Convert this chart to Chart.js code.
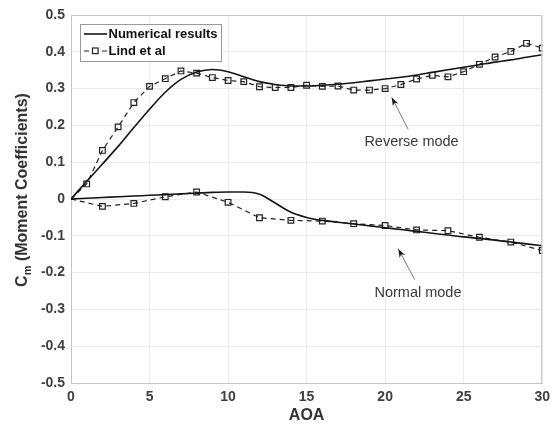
<!DOCTYPE html>
<html lang="en">
<head>
<meta charset="UTF-8">
<title>Cm vs AOA</title>
<script src="https://cdn.jsdelivr.net/npm/chart.js"></script>
<style>
  html, body { margin: 0; padding: 0; background: #fff; }
  #wrap { width: 556px; height: 429px; }
</style>
</head>
<body>
<div id="wrap"><canvas id="cmChart" width="556" height="429"></canvas></div>
<script>
// AOA values
const aoaNum = [0,1,2,3,4,5,6,7,8,9,10,11,12,13,14,15,16,17,18,19,20,21,22,23,24,25,26,27,28,29,30];
const aoaLindRev = [0,1,2,3,4,5,6,7,8,9,10,11,12,13,14,15,16,17,18,19,20,21,22,23,24,25,26,27,28,29,30];
const aoaLindNorm = [0,2,4,6,8,10,12,14,16,18,20,22,24,26,28,30];

// Numerical results (solid)
const numReverse = [0,0.048,0.095,0.143,0.194,0.244,0.29,0.325,0.345,0.352,0.346,0.332,0.319,0.311,0.307,0.307,0.309,0.312,0.316,0.321,0.326,0.331,0.337,0.344,0.351,0.358,0.365,0.372,0.378,0.385,0.392];
const numNormal = [0,0.002,0.004,0.006,0.008,0.010,0.012,0.014,0.016,0.018,0.019,0.019,0.013,-0.011,-0.036,-0.05,-0.058,-0.063,-0.068,-0.073,-0.078,-0.083,-0.088,-0.093,-0.098,-0.103,-0.107,-0.112,-0.117,-0.122,-0.127];

// Lind et al (dashed, square markers)
const lindReverse = [0,0.041,0.132,0.196,0.262,0.306,0.327,0.348,0.342,0.330,0.322,0.319,0.305,0.303,0.303,0.309,0.306,0.307,0.296,0.296,0.300,0.311,0.326,0.336,0.332,0.346,0.366,0.386,0.401,0.423,0.410];
const lindNormal = [0,-0.020,-0.012,0.006,0.019,-0.009,-0.051,-0.058,-0.060,-0.067,-0.072,-0.084,-0.086,-0.104,-0.117,-0.140];

// Annotation text + arrow (data coordinates)
const notes = [
  { text: 'Reverse mode', tx: 21.68, ty: 0.154, from: [21.47, 0.189], to: [20.42, 0.276] },
  { text: 'Normal mode', tx: 22.09, ty: -0.255, from: [21.88, -0.219], to: [20.84, -0.136] }
];

const pts = (xs, ys) => xs.map((x, i) => ({ x, y: ys[i] }));
const FONT = "'Liberation Sans', Arial, Helvetica, sans-serif";

const solidStyle = {
  borderColor: '#141414', borderWidth: 1.6, pointRadius: 0,
  tension: 0.35, cubicInterpolationMode: 'monotone', showLine: true, fill: false
};
const lindStyle = {
  borderColor: '#222', borderWidth: 1.2, borderDash: [5, 4],
  pointStyle: 'rect', pointRadius: ctx => ctx.dataIndex === 0 ? 0 : 4,
  pointBorderColor: '#222', pointBorderWidth: 1.2, pointBackgroundColor: 'rgba(255,255,255,0)',
  tension: 0, showLine: true, fill: false
};

// draws frame, titles, legend and annotations
const extras = {
  id: 'extras',
  afterDraw(chart) {
    const { ctx, chartArea: a, scales: { x, y } } = chart;
    ctx.save();

    // top/right frame
    ctx.strokeStyle = '#c4c4c4';
    ctx.lineWidth = 1;
    ctx.beginPath();
    ctx.moveTo(a.left, a.top + 0.5); ctx.lineTo(a.right - 0.5, a.top + 0.5); ctx.lineTo(a.right - 0.5, a.bottom);
    ctx.stroke();

    // x title
    ctx.fillStyle = '#333';
    ctx.font = 'bold 16px ' + FONT;
    ctx.textAlign = 'center';
    ctx.textBaseline = 'middle';
    ctx.fillText('AOA', (a.left + a.right) / 2, 416);

    // y title with subscript
    ctx.save();
    ctx.translate(23, 190);
    ctx.rotate(-Math.PI / 2);
    ctx.textAlign = 'left';
    ctx.textBaseline = 'middle';
    ctx.font = 'bold 16px ' + FONT;
    const wC = ctx.measureText('C').width;
    const rest = ' (Moment Coefficients)';
    const wRest = ctx.measureText(rest).width;
    ctx.font = 'bold 11px ' + FONT;
    const wm = ctx.measureText('m').width;
    let sx = -(wC + wm + wRest) / 2;
    ctx.font = 'bold 16px ' + FONT;
    ctx.fillText('C', sx, 0);
    ctx.font = 'bold 11px ' + FONT;
    ctx.fillText('m', sx + wC, 5);
    ctx.font = 'bold 16px ' + FONT;
    ctx.fillText(rest, sx + wC + wm, 0);
    ctx.restore();

    // annotations
    notes.forEach(n => {
      const x0 = x.getPixelForValue(n.from[0]), y0 = y.getPixelForValue(n.from[1]);
      const x1 = x.getPixelForValue(n.to[0]), y1 = y.getPixelForValue(n.to[1]);
      const ang = Math.atan2(y1 - y0, x1 - x0);
      ctx.strokeStyle = '#7a7a7a';
      ctx.lineWidth = 1;
      ctx.setLineDash([]);
      ctx.beginPath(); ctx.moveTo(x0, y0); ctx.lineTo(x1, y1); ctx.stroke();
      ctx.fillStyle = '#1a1a1a';
      ctx.beginPath();
      ctx.moveTo(x1, y1);
      ctx.lineTo(x1 - 9 * Math.cos(ang - 0.35), y1 - 9 * Math.sin(ang - 0.35));
      ctx.lineTo(x1 - 6 * Math.cos(ang), y1 - 6 * Math.sin(ang));
      ctx.lineTo(x1 - 9 * Math.cos(ang + 0.35), y1 - 9 * Math.sin(ang + 0.35));
      ctx.closePath(); ctx.fill();
      ctx.fillStyle = '#3a3a3a';
      ctx.font = '14.5px ' + FONT;
      ctx.textAlign = 'center';
      ctx.textBaseline = 'middle';
      ctx.fillText(n.text, x.getPixelForValue(n.tx), y.getPixelForValue(n.ty));
    });

    // legend
    ctx.fillStyle = '#fff';
    ctx.fillRect(81, 24, 141, 37);
    ctx.strokeStyle = '#9a9a9a';
    ctx.lineWidth = 1;
    ctx.strokeRect(80.5, 24.5, 141, 37);
    ctx.strokeStyle = '#141414';
    ctx.lineWidth = 1.6;
    ctx.beginPath(); ctx.moveTo(84, 34); ctx.lineTo(107, 34); ctx.stroke();
    ctx.strokeStyle = '#222';
    ctx.lineWidth = 1.2;
    ctx.setLineDash([5, 4]);
    ctx.beginPath(); ctx.moveTo(84, 51); ctx.lineTo(107, 51); ctx.stroke();
    ctx.setLineDash([]);
    ctx.fillStyle = '#fff';
    ctx.fillRect(92.5, 48, 5.6, 5.6);
    ctx.strokeRect(92.5, 48, 5.6, 5.6);
    ctx.fillStyle = '#111';
    ctx.font = 'bold 13px ' + FONT;
    ctx.textAlign = 'left';
    ctx.textBaseline = 'middle';
    ctx.fillText('Numerical results', 108.5, 34);
    ctx.fillText('Lind et al', 108.5, 51);

    ctx.restore();
  }
};

new Chart(document.getElementById('cmChart'), {
  type: 'scatter',
  data: {
    datasets: [
      { label: 'Numerical results', data: pts(aoaNum, numReverse), ...solidStyle },
      { label: 'Numerical results', data: pts(aoaNum, numNormal), ...solidStyle },
      { label: 'Lind et al', data: pts(aoaLindRev, lindReverse), ...lindStyle },
      { label: 'Lind et al', data: pts(aoaLindNorm, lindNormal), ...lindStyle }
    ]
  },
  options: {
    responsive: false,
    animation: false,
    layout: { padding: { top: 15, right: 10, left: 0, bottom: 0 } },
    plugins: { legend: { display: false }, tooltip: { enabled: false } },
    scales: {
      x: {
        type: 'linear', min: 0, max: 30,
        ticks: { stepSize: 5, color: '#404040', padding: 6, font: { family: FONT, size: 14, weight: 'bold' } },
        grid: { color: '#ebebeb', drawTicks: false },
        border: { color: '#c4c4c4' },
        afterFit: s => { s.height = 46; }
      },
      y: {
        min: -0.5, max: 0.5,
        ticks: {
          stepSize: 0.1, color: '#404040', padding: 6,
          font: { family: FONT, size: 14, weight: 'bold' },
          callback: v => String(Math.round(v * 10) / 10)
        },
        grid: { color: '#ebebeb', drawTicks: false },
        border: { color: '#c4c4c4' },
        afterFit: s => { s.width = 71; }
      }
    }
  },
  plugins: [extras]
});
</script>
</body>
</html>
